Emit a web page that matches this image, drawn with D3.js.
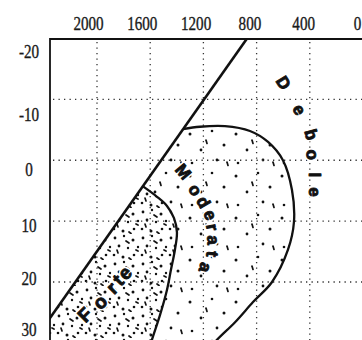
<html>
  <head>
    <meta charset="UTF-8">
    <script src="https://cdnjs.cloudflare.com/ajax/libs/d3/7.8.5/d3.min.js"></script>
  </head>
  <body style="margin:0;background:#fff">
    <svg id="chart"></svg>
    <script>
      const xTicks = [2000, 1600, 1200, 800, 400, 0]
      const yTicks = [-20, -10, 0, 10, 20, 30]

      // boundary lines, [x value, y value]
      const diagonal = [[872, -20], [2524, 31.2]]
      const forteCurve = [[1654, 4.3], [1549, 6.0], [1474, 7.5], [1421, 9.5], [1399, 11.8], [1414, 14.7],
        [1444, 18.0], [1474, 21.3], [1526, 25.4], [1587, 29.5], [1609, 31.2]]
      const moderataCurve = [[1353, -5.1], [1226, -5.5], [1038, -5.6], [850, -4.8], [714, -3.0], [602, 0.0],
        [534, 4.9], [519, 10.1], [564, 14.7], [684, 20.0], [827, 23.3], [962, 26.6], [1098, 29.5], [1165, 31.2]]

      // zone names, one letter at a time: [letter, x value, y value, angle]
      const deboleLetters = [['D', 601, -12.7, 58], ['e', 481, -8.3, 62], ['b', 391, -4.2, 75],
        ['o', 383, -0.9, 85], ['l', 361, 2.4, 90], ['e', 361, 5.2, 90]]
      const moderataLetters = [['M', 1353, 1.9, 50], ['o', 1263, 4.9, 55], ['d', 1203, 6.9, 60],
        ['e', 1150, 9.0, 70], ['r', 1135, 11.0, 80], ['a', 1128, 13.1, 88], ['t', 1135, 15.4, 95],
        ['a', 1188, 17.6, 105]]
      const forteLetters = [['F', 2090, 25.4, -45], ['o', 1978, 23.3, -45], ['r', 1887, 21.0, -45],
        ['t', 1842, 19.7, -45], ['e', 1790, 18.5, -45]]

      const width = 362
      const height = 340
      const plot = { left: 50, top: 39, right: 362, bottom: 340 }

      const svg = d3.select('#chart').attr('width', width).attr('height', height)

      const x = d3.scaleLinear().domain([2000, 0]).range([97, 363])
      const y = d3.scaleLinear().domain([-20, 20]).range([38.5, 282])
      // the printed numbers sit a little off the grid
      const xLab = d3.scaleLinear().domain([2000, 0]).range([88, 357])
      const yLab = d3.scaleLinear().domain(yTicks).range([52, 115, 170, 226, 279, 330])

      const defs = svg.append('defs')
      defs.append('clipPath').attr('id', 'plot-clip')
        .append('rect')
        .attr('x', plot.left).attr('y', plot.top)
        .attr('width', plot.right - plot.left).attr('height', plot.bottom - plot.top)

      // stipple textures
      function texture(id, w, h, dots, dashes) {
        const p = defs.append('pattern').attr('id', id)
          .attr('patternUnits', 'userSpaceOnUse').attr('width', w).attr('height', h)
        dots.forEach(d => p.append('circle').attr('cx', d[0]).attr('cy', d[1]).attr('r', d[2]).attr('fill', '#111'))
        dashes.forEach(d => p.append('line').attr('x1', d[0]).attr('y1', d[1]).attr('x2', d[2]).attr('y2', d[3])
          .attr('stroke', '#111').attr('stroke-width', 1.7).attr('stroke-linecap', 'round'))
      }
      texture('dense', 28, 26,
        [[3, 4, 1.4], [12, 2, 1.2], [21, 6, 1.5], [26, 13, 1.2], [7, 12, 1.4], [16, 14, 1.2], [2, 21, 1.3], [11, 23, 1.5], [22, 21, 1.3]],
        [[14, 7, 17, 9], [5, 16, 6, 19], [24, 16, 26, 17], [17, 24, 19, 25.5]])
      texture('sparse', 46, 42,
        [[6, 8, 1.5], [28, 5, 1.3], [40, 19, 1.5], [17, 24, 1.4], [33, 34, 1.4], [8, 37, 1.3]],
        [[22, 14, 23, 17.5], [43, 36, 44, 39.5]])

      const line = d3.line().x(d => x(d[0])).y(d => y(d[1]))
      const curve = d3.line().x(d => x(d[0])).y(d => y(d[1])).curve(d3.curveCatmullRom)

      const body = svg.append('g').attr('clip-path', 'url(#plot-clip)')

      // zone fills
      const forteEnd = diagonal[1]
      const fortePath = curve(forteCurve) + 'L' + x(forteEnd[0]) + ',' + y(forteEnd[1]) + 'Z'
      const moderataPath = curve(moderataCurve) + 'L' + curve(forteCurve.slice().reverse()).slice(1) + 'Z'
      body.append('path').attr('d', fortePath).attr('fill', 'url(#dense)')
      body.append('path').attr('d', moderataPath).attr('fill', 'url(#sparse)')

      // grid
      const gridStyle = sel => sel.attr('stroke', '#333').attr('stroke-width', 1.3).attr('stroke-dasharray', '1.3,4.2')
      body.selectAll('.vgrid')
        .data(xTicks.filter(d => d > 0))
        .enter().append('line')
        .attr('x1', d => x(d)).attr('x2', d => x(d))
        .attr('y1', plot.top + 3).attr('y2', plot.bottom)
        .call(gridStyle)
      body.selectAll('.hgrid')
        .data(yTicks.filter(d => d > -20 && d < 30))
        .enter().append('line')
        .attr('x1', plot.left + 3).attr('x2', plot.right)
        .attr('y1', d => y(d)).attr('y2', d => y(d))
        .call(gridStyle)

      // boundaries
      const boundary = (pts, gen, w) => body.append('path').attr('d', gen(pts))
        .attr('fill', 'none').attr('stroke', '#111').attr('stroke-width', w)
      boundary(diagonal, line, 2.6)
      boundary(forteCurve, curve, 2.3)
      boundary(moderataCurve, curve, 2.3)

      // zone names: a white halo first, then the heavy letters on top
      function zoneName(letters, size) {
        ;[['#fff', 4], ['#111', 0.9]].forEach(([stroke, sw]) => {
          svg.append('g').selectAll('text')
            .data(letters)
            .enter().append('text')
            .attr('text-anchor', 'middle')
            .attr('dominant-baseline', 'central')
            .attr('transform', d => `translate(${x(d[1])},${y(d[2])}) rotate(${d[3]})`)
            .style('font-family', "'Liberation Sans', Arial, sans-serif")
            .style('font-size', size + 'px')
            .style('font-weight', 'bold')
            .style('fill', '#111')
            .style('stroke', stroke)
            .style('stroke-width', sw + 'px')
            .style('stroke-linejoin', 'round')
            .text(d => d[0])
        })
      }
      zoneName(deboleLetters, 17)
      zoneName(moderataLetters, 17)
      zoneName(forteLetters, 19)

      // frame
      svg.append('line').attr('x1', plot.left).attr('x2', plot.right)
        .attr('y1', plot.top).attr('y2', plot.top)
        .attr('stroke', '#111').attr('stroke-width', 2.2)
      svg.append('line').attr('x1', plot.left).attr('x2', plot.left)
        .attr('y1', plot.top - 1).attr('y2', plot.bottom)
        .attr('stroke', '#111').attr('stroke-width', 1.8)

      // tick labels, a tall narrow serif like the printed original
      const labelStyle = sel => sel
        .style('font-family', "'Liberation Serif', 'Times New Roman', serif")
        .style('font-size', '18px')
        .style('fill', '#1a1a1a')
        .style('stroke', '#1a1a1a')
        .style('stroke-width', '0.35px')
        .attr('transform', 'scale(0.84,1)')

      const xAxis = svg.append('g').attr('transform', 'translate(0,34)')
        .call(d3.axisTop(xLab).tickValues(xTicks).tickSize(0).tickPadding(4).tickFormat(d3.format('d')))
      xAxis.select('.domain').remove()
      xAxis.selectAll('text').call(labelStyle)

      const yAxis = svg.append('g').attr('transform', 'translate(29,0)')
        .call(d3.axisLeft(yLab).tickValues(yTicks).tickSize(0).tickPadding(0).tickFormat(d => String(d)))
      yAxis.select('.domain').remove()
      yAxis.selectAll('text').call(labelStyle).attr('text-anchor', 'middle')
    </script>
  </body>
</html>
